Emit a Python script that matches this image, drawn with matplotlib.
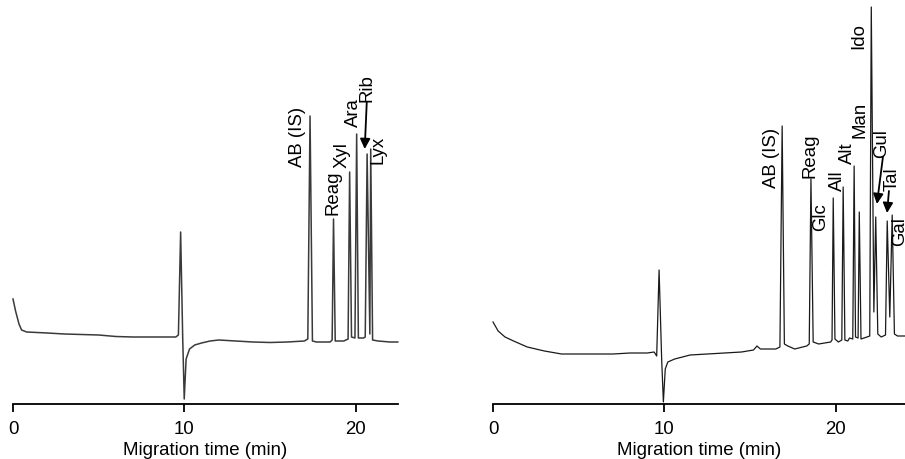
import matplotlib
matplotlib.use("Agg")
import matplotlib.pyplot as plt

plt.rcParams['font.family'] = ['Liberation Sans', 'DejaVu Sans']

# ---------------- Data ----------------
# Left electropherogram (pentoses): migration time (min) and signal (a.u.)
left_time = [0.0, 0.15, 0.35, 0.5, 0.8, 2.0, 3.0, 4.0, 5.0, 6.0, 7.0, 8.0, 9.0, 9.5, 9.65,
             9.78, 9.9, 9.99, 10.1, 10.3, 10.6, 11.0, 11.5, 12.0, 13.0, 14.0, 15.0, 16.0,
             17.0, 17.2, 17.33, 17.47, 17.7, 18.5, 18.62, 18.7, 18.8, 19.3, 19.55, 19.64,
             19.75, 19.95, 20.05, 20.15, 20.45, 20.55, 20.66, 20.82, 20.87, 20.98, 21.3,
             22.0, 22.45]
left_signal = [105, 93, 80, 74, 72, 71, 70, 69.5, 69, 67.5, 67, 67, 67, 67, 69,
               172, 67, 5, 45, 55, 59, 61, 63, 64, 63, 62, 61.5, 62,
               63, 65, 288, 63, 62, 62, 64, 185, 63, 63, 65, 232,
               67, 66, 270, 66, 66, 67, 250, 70, 255, 64, 63,
               62, 62]

# Right electropherogram (hexoses)
right_time = [0.0, 0.3, 0.7, 1.2, 2.0, 3.0, 4.0, 5.0, 6.0, 7.0, 8.0, 9.0, 9.4, 9.55,
              9.69, 9.84, 9.94, 10.05, 10.2, 10.6, 11.5, 12.5, 13.5, 14.5, 15.2, 15.4,
              15.6, 16.5, 16.74, 16.87, 17.0, 17.2, 17.6, 18.3, 18.45, 18.55, 18.68,
              19.0, 19.7, 19.78, 19.85, 19.95, 20.15, 20.35, 20.43, 20.53, 20.7, 20.8,
              20.99, 21.07, 21.15, 21.3, 21.37, 21.47, 21.65, 21.98, 22.07, 22.22,
              22.33, 22.45, 22.65, 22.9, 23.0, 23.15, 23.29, 23.42, 23.6, 24.1]
right_signal = [82, 73, 67, 63, 57, 53, 50, 50, 50, 50, 51, 51, 52, 48,
                134, 45, 2, 35, 42, 45, 49, 50, 51, 52, 54, 58,
                55, 55, 57, 278, 60, 58, 55, 58, 60, 225, 62,
                60, 62, 64, 206, 65, 62, 64, 217, 64, 63, 66,
                65, 238, 67, 66, 192, 65, 66, 68, 397, 92,
                187, 70, 67, 69, 183, 87, 189, 70, 68, 68]

# Peak labels: text, label position (time, signal)
left_labels = ["AB (IS)", "Reag", "Xyl", "Ara", "Lyx"]
left_label_t = [16.59, 18.66, 19.21, 19.85, 21.31]
left_label_s = [268, 212, 250, 292, 255]
# arrow-annotated labels: text, text pos, arrow tail, arrow tip
left_arrow_labels = ["Rib"]
left_arrow_text = [(20.67, 317)]
left_arrow_tail = [(20.64, 302)]
left_arrow_tip = [(20.52, 255)]

right_labels = ["AB (IS)", "Reag", "Glc", "All", "Alt", "Man", "Ido", "Gal"]
right_label_t = [16.23, 18.5, 19.09, 20.11, 20.69, 21.42, 21.34, 23.75]
right_label_s = [247, 249, 188, 224, 252, 285, 369, 173]
right_arrow_labels = ["Gul", "Tal"]
right_arrow_text = [(22.70, 261), (23.31, 226)]
right_arrow_tail = [(22.75, 247), (23.10, 213)]
right_arrow_tip = [(22.40, 200), (22.99, 191)]

xticks = [0, 10, 20]
xlabel = "Migration time (min)"

# ---------------- Figure ----------------
W, H = 905, 460
fig = plt.figure(figsize=(W / 100, H / 100), dpi=100)

px = 17.14  # pixels per minute
ax_bottom = 1 - 405 / H
ax_height = 405 / H

axL = fig.add_axes([13 / W, ax_bottom, (22.45 * px) / W, ax_height])
axR = fig.add_axes([493 / W, ax_bottom, (24.1 * px) / W, ax_height])

FS = 13.4


def style(ax, xmax):
    ax.set_xlim(0, xmax)
    ax.set_ylim(0, 405)
    for s in ("left", "right", "top"):
        ax.spines[s].set_visible(False)
    ax.spines["bottom"].set_linewidth(1.3)
    ax.set_yticks([])
    ax.set_xticks(xticks)
    ax.set_xticklabels([str(v) for v in xticks], fontsize=FS)
    ax.tick_params(axis="x", direction="out", length=6, width=1.3, pad=5.5)
    ax.set_xlabel(xlabel, fontsize=FS, labelpad=3)
    ax.patch.set_alpha(0)


style(axL, 22.45)
style(axR, 24.1)

axL.plot(left_time, left_signal, color="#3a3a3a", lw=1.1, clip_on=False)
axR.plot(right_time, right_signal, color="#1a1a1a", lw=0.9, clip_on=False)


def put_labels(ax, names, ts, ss):
    for txt, t, s in zip(names, ts, ss):
        ax.text(t, s, txt, rotation=90, ha="center", va="center", fontsize=FS, clip_on=False)


def put_arrows(ax, names, pos, tails, tips):
    for txt, (tt, ts), tail, tip in zip(names, pos, tails, tips):
        ax.text(tt, ts, txt, rotation=90, ha="center", va="center", fontsize=FS, clip_on=False)
        ax.annotate("", xy=tip, xytext=tail,
                    arrowprops=dict(arrowstyle="-|>", color="black", lw=1.3, mutation_scale=15,
                                    shrinkA=0, shrinkB=0), annotation_clip=False)


put_labels(axL, left_labels, left_label_t, left_label_s)
put_arrows(axL, left_arrow_labels, left_arrow_text, left_arrow_tail, left_arrow_tip)
put_labels(axR, right_labels, right_label_t, right_label_s)
put_arrows(axR, right_arrow_labels, right_arrow_text, right_arrow_tail, right_arrow_tip)

fig.savefig("out.png", dpi=100)
